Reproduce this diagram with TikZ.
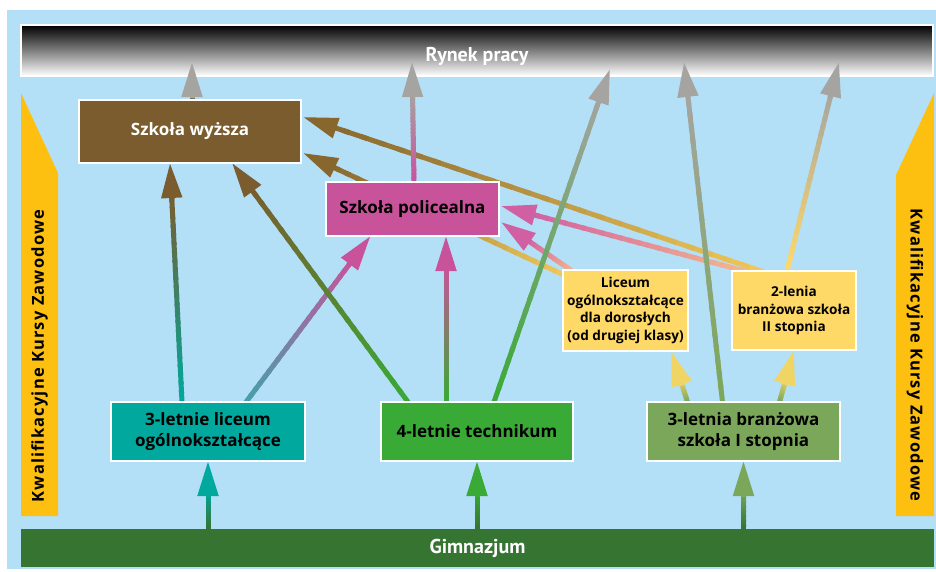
\documentclass[tikz,border=0pt]{standalone}
\usepackage{fontspec}
\setmainfont{Open Sans}
\newfontfamily\ptsans{PT Sans}
\usetikzlibrary{calc,arrows.meta}
\definecolor{bgblue}{RGB}{180,224,247}
\definecolor{amber}{RGB}{253,192,16}
\definecolor{gimg}{RGB}{54,116,49}
\definecolor{brownw}{RGB}{122,92,46}
\definecolor{brownh}{RGB}{135,103,46}
\definecolor{magp}{RGB}{201,83,155}
\definecolor{pinkh}{RGB}{208,96,162}
\definecolor{yelb}{RGB}{255,217,104}
\definecolor{tealb}{RGB}{0,168,157}
\definecolor{tealg}{RGB}{70,160,170}
\definecolor{greent}{RGB}{57,170,53}
\definecolor{olivb}{RGB}{122,167,89}
\definecolor{grayh}{RGB}{166,164,161}
\definecolor{yelarr}{RGB}{240,213,100}
\definecolor{golden}{RGB}{240,200,90}
\definecolor{peach}{RGB}{245,185,140}
\pgfdeclarelayer{lines}
\pgfdeclarelayer{background}
\pgfsetlayers{background,lines,main}
\tikzset{
  box/.style={draw=white, line width=2.5pt, inner sep=0pt, outer sep=0pt, align=center,
    font=\bfseries\fontsize{17}{21.5}\selectfont},
  smallbox/.style={box, fill=yelb, font=\bfseries\fontsize{13.6}{17.8}\selectfont},
  arrowtip/.style={line width=5pt, -{Triangle[length=35pt,width=20pt]}},
  sidetext/.style={font=\bfseries\addfontfeature{LetterSpace=7}\fontsize{16.5}{20}\selectfont, inner sep=0pt},
  bigtext/.style={font=\ptsans\bfseries\fontsize{20}{22}\selectfont}
}
\newcommand\gradarrow[4]{%
  \coordinate (ga-e) at ($(#2)!30pt!(#1)$);
  \foreach \k in {0,...,23}{%
    \pgfmathsetmacro\ta{\k/24}%
    \pgfmathsetmacro\tb{min(1,(\k+1.4)/24)}%
    \pgfmathtruncatemacro\pc{100*(\k+0.5)/24}%
    \draw[line width=5pt, color={#4!\pc!#3}] ($(#1)!\ta!(ga-e)$) -- ($(#1)!\tb!(ga-e)$);
  }%
  \draw[arrowtip, color=#4] ($(#2)!36pt!(#1)$) -- (#2);
}
\begin{document}
\begin{tikzpicture}[x=1pt,y=-1pt]
\useasboundingbox (0,0) rectangle (936,571);
\begin{pgfonlayer}{background}
\fill[white] (0,0) rectangle (936,571);
\fill[bgblue] (7,10) rectangle (936,569);
\fill[amber] (21,93) -- (58,173) -- (58,516) -- (21,516) -- cycle;
\fill[amber] (934,93) -- (896,175) -- (896,516) -- (934,516) -- cycle;
\node[box, bigtext, minimum width=912, minimum height=51, top color=black, middle color=black!75, bottom color=white, text=white]
  (rynek) at (477,50.5) {\raisebox{-4pt}[\height][0pt]{Rynek pracy}};
\end{pgfonlayer}
\node[sidetext, rotate=90] (kkzl) at (39.5,356) {Kwalifikacyjne Kursy Zawodowe};
\node[sidetext, rotate=-90] (kkzr) at (915,355) {Kwalifikacyjne Kursy Zawodowe};
\node[box, bigtext, draw=none, fill=gimg, text=white, minimum width=913, minimum height=38] (gim) at (477.5,548) {Gimnazjum};
\node[box, fill=brownw, text=white, minimum width=222, minimum height=63] (szw) at (190,131.5) {Szkoła wyższa};
\node[box, fill=magp, minimum width=173, minimum height=54] (pol) at (412.5,209) {Szkoła policealna};
\node[smallbox, minimum width=125, minimum height=81] (lcd) at (625.5,310.5) {Liceum\\ogólnokształcące\\dla dorosłych\\(od drugiej klasy)};
\node[smallbox, minimum width=124, minimum height=79] (bs2) at (794,310.5) {2-lenia\\branżowa szkoła\\II stopnia};
\node[box, fill=tealb, minimum width=194, minimum height=59] (lo) at (208,431.5) {3-letnie liceum\\ogólnokształcące};
\node[box, fill=greent, minimum width=192, minimum height=59] (tech) at (477,431.5) {4-letnie technikum};
\node[box, fill=olivb, minimum width=193, minimum height=59] (bs1) at (743.5,431.5) {3-letnia branżowa\\szkoła I stopnia};
% connector end points
\coordinate (g-lo) at (lo.south |- gim.north);
\coordinate (g-tech) at (tech.south |- gim.north);
\coordinate (g-bs1) at (bs1.south |- gim.north);
\coordinate (lo-a) at ($(lo.north)+(-26,0)$);
\coordinate (szw-a) at ($(szw.south)+(-20,0)$);
\coordinate (lo-b) at ($(lo.north)+(38,0)$);
\coordinate (pol-a) at ($(pol.south)+(-42,0)$);
\coordinate (tech-a) at ($(tech.north)+(-69,0)$);
\coordinate (szw-b) at ($(szw.south)+(42,0)$);
\coordinate (tech-b) at ($(tech.north)+(-31,0)$);
\coordinate (pol-b) at ($(pol.south)+(33.5,0)$);
\coordinate (tech-c) at ($(tech.north)+(17,0)$);
\coordinate (ry-a) at ($(rynek.south)+(133,-7)$);
\coordinate (bs1-a) at ($(bs1.north)+(-21,0)$);
\coordinate (ry-b) at ($(rynek.south)+(207,-14)$);
\coordinate (bs1-b) at ($(bs1.north)+(-56,0)$);
\coordinate (lcd-a) at ($(lcd.south)+(45.5,0)$);
\coordinate (bs1-c) at ($(bs1.north)+(36,0)$);
\coordinate (bs2-a) at (bs2.south);
\coordinate (bs2-b) at ($(bs2.north)+(-7,0)$);
\coordinate (ry-c) at ($(rynek.south)+(362,-14)$);
\coordinate (bs2-c) at ($(bs2.north west)+(35,2)$);
\coordinate (szw-c) at ($(szw.east)+(2,-14.5)$);
\coordinate (lcd-b) at ($(lcd.north west)+(3,6)$);
\coordinate (szw-d) at ($(szw.east)+(2,21.5)$);
\coordinate (bs2-d) at ($(bs2.north west)+(20,2)$);
\coordinate (pol-c) at ($(pol.east)+(2,-3)$);
\coordinate (lcd-c) at ($(lcd.north west)+(12,3)$);
\coordinate (pol-d) at ($(pol.east)+(2,13)$);
\coordinate (szw-e) at ($(szw.north)+(2,0)$);
\coordinate (ry-d) at ($(rynek.south)+(-285,-14)$);
\coordinate (pol-e) at ($(pol.north)+(1.5,0)$);
\coordinate (ry-e) at ($(rynek.south)+(-65,-14)$);
\begin{pgfonlayer}{lines}
\gradarrow{g-lo}{lo.south}{gimg}{tealb}
\gradarrow{g-tech}{tech.south}{gimg}{greent}
\gradarrow{g-bs1}{bs1.south}{gimg}{olivb}
\gradarrow{bs2-c}{szw-c}{golden}{brownh}
\gradarrow{lcd-b}{szw-d}{golden}{brownh}
\gradarrow{bs2-d}{pol-c}{peach}{pinkh}
\gradarrow{lcd-c}{pol-d}{peach}{pinkh}
\gradarrow{lo-a}{szw-a}{tealb}{brownw}
\gradarrow{lo-b}{pol-a}{tealg}{magp}
\gradarrow{tech-a}{szw-b}{greent}{brownw}
\gradarrow{tech-b}{pol-b}{greent}{magp}
\gradarrow{tech-c}{ry-a}{greent}{grayh}
\gradarrow{bs1-a}{ry-b}{olivb}{grayh}
\gradarrow{bs1-b}{lcd-a}{olivb}{yelarr}
\gradarrow{bs1-c}{bs2-a}{olivb}{yelarr}
\gradarrow{bs2-b}{ry-c}{yelb}{grayh}
\gradarrow{szw-e}{ry-d}{brownw}{grayh}
\gradarrow{pol-e}{ry-e}{magp}{grayh}
\end{pgfonlayer}
\end{tikzpicture}
\end{document}
